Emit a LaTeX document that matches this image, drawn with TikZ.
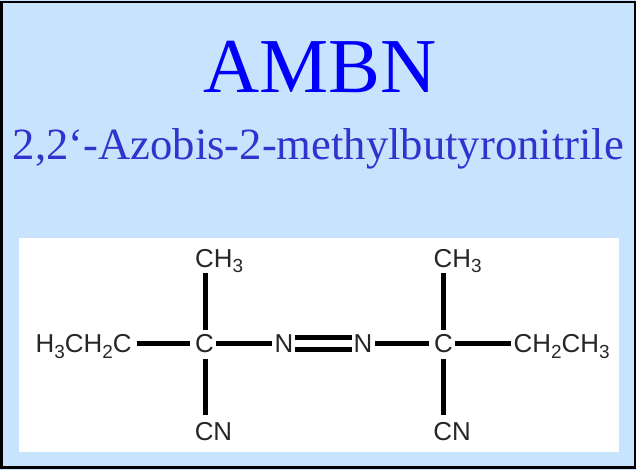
\documentclass[tikz,border=0pt]{standalone}
\usepackage{fontspec}
\usetikzlibrary{calc}
\setmainfont{Liberation Serif}
\setsansfont{Liberation Sans}
\definecolor{panelblue}{RGB}{200,227,253}
\definecolor{titleblue}{RGB}{0,0,250}
\definecolor{subblue}{RGB}{50,50,205}
\tikzset{
  title/.style={font=\fontsize{78}{78}\selectfont,text=titleblue,inner sep=0pt,anchor=base},
  subtitle/.style={font=\fontsize{44.8}{46}\selectfont,text=subblue,inner sep=0pt,anchor=base},
  atom/.style={font=\sffamily\fontsize{26}{26}\selectfont,text=black!85,inner sep=0pt,anchor=base},
  bond/.style={line width=5bp,black},
  dbond/.style={line width=5bp,black}
}
\newcommand{\sbs}[1]{\raisebox{-5.5bp}{\fontsize{19}{19}\selectfont #1}}
\begin{document}
\begin{tikzpicture}[x=1bp,y=-1bp]
\useasboundingbox (0,0) rectangle (636,470);
\fill[panelblue] (0,0) rectangle (636,470);
\draw[line width=2.4bp,black] (1.5,2) rectangle (635,467.3);
\fill[white] (19,238) rectangle (619,452);
\node[title] (ttl) at (320,93) {AMBN};
\node[subtitle] (sub) at (318.5,160) {2,2‘-Azobis-2-methylbutyronitrile};
\node[atom] (c1) at (204.5,352.5) {C};
\node[atom] (c2) at (443.5,352.5) {C};
\node[atom] (n1) at (284,352.5) {N};
\node[atom] (n2) at (363,352.5) {N};
\node[atom,anchor=base west] (top1) at (195,267.5) {CH\sbs{3}};
\node[atom,anchor=base west] (top2) at (433.5,267.5) {CH\sbs{3}};
\node[atom] (bot1) at (213.5,440.5) {CN};
\node[atom] (bot2) at (452,440.5) {CN};
\node[atom,anchor=base west] (left) at (35.5,352.5) {H\sbs{3}CH\sbs{2}C};
\node[atom,anchor=base west] (right) at (513.5,352.5) {CH\sbs{2}CH\sbs{3}};
\coordinate (axisL) at (0,343);
\draw[bond] ($(left.east |- axisL)+(5,0)$) -- ($(c1.west |- axisL)+(-4.5,0)$);
\draw[bond] ($(c1.east |- axisL)+(2,0)$) -- ($(n1.west |- axisL)+(-2.5,0)$);
\draw[bond] ($(n2.east |- axisL)+(2.5,0)$) -- ($(c2.west |- axisL)+(-5,0)$);
\draw[bond] ($(c2.east |- axisL)+(2,0)$) -- ($(right.west |- axisL)+(-3,0)$);
\draw[dbond] ($(n1.east |- axisL)+(1.6,-6)$) -- ($(n2.west |- axisL)+(-1.6,-6)$);
\draw[dbond] ($(n1.east |- axisL)+(1.6,6)$) -- ($(n2.west |- axisL)+(-1.6,6)$);
\draw[bond] ($(c1.north)+(0.5,-4)$) -- ($(c1.north |- top1.south)+(0.5,0)$);
\draw[bond] ($(c2.north)+(0,-4)$) -- ($(c2.north |- top2.south)+(0,0)$);
\draw[bond] ($(c1.south)+(0.5,6)$) -- ($(c1.south |- bot1.north)+(0.5,-7)$);
\draw[bond] ($(c2.south)+(0,6)$) -- ($(c2.south |- bot2.north)+(0,-7)$);
\end{tikzpicture}
\end{document}
